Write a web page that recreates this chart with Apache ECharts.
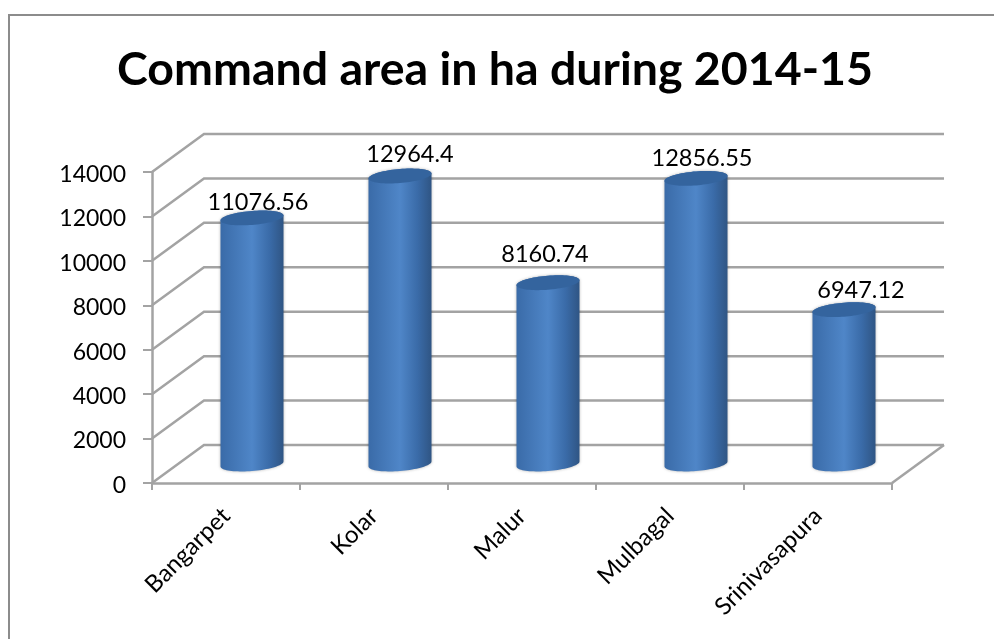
<!DOCTYPE html>
<html>
<head>
<meta charset="utf-8">
<style>
  html, body { margin: 0; padding: 0; background: #fff; }
  #chart { width: 994px; height: 639px; }
</style>
</head>
<body>
<div id="chart"></div>
<script src="https://cdn.jsdelivr.net/npm/echarts@6/dist/echarts.min.js"></script>
<script>
const categories = ['Bangarpet', 'Kolar', 'Malur', 'Mulbagal', 'Srinivasapura']
const areaValues = [11076.56, 12964.4, 8160.74, 12856.55, 6947.12]
const areaLabels = ['11076.56', '12964.4', '8160.74', '12856.55', '6947.12']
const wallTicks = [0, 2000, 4000, 6000, 8000, 10000, 12000, 14000]

const FONT_FAMILY = 'Lato, sans-serif'
const COLORS = {
  frame: '#8c8c8c',
  line: '#a3a3a3',
  text: '#000000',
  barEdge: '#3a6ba8',
  barMid: '#4f86c8',
  barDark: '#2f5584',
  barTop: '#34649e',
}

// fake 3d: how far the back wall sits from the front axis plane
const DEPTH_X = 52
const DEPTH_Y = -38
const BAR_RADIUS = 31.5
const BAR_ELLIPSE = 7
const BAR_TILT = 2.5
// hand placed data labels in the original, offset from the top of each bar
const LABEL_NUDGE = [[6, -16], [10, -22], [-3, -28], [6, -20], [17, -19]]

function renderWall(params, api) {
  const rect = params.coordSys
  const y = api.coord([0, api.value(0)])[1]
  const children = [{
    type: 'polyline',
    shape: { points: [[rect.x, y], [rect.x + DEPTH_X, y + DEPTH_Y], [rect.x + rect.width + DEPTH_X, y + DEPTH_Y]] },
    style: { fill: 'none', stroke: COLORS.line, lineWidth: 2.5 },
  }]
  if (api.value(0) === 0) {
    children.push({
      type: 'line',
      shape: { x1: rect.x + rect.width, y1: y, x2: rect.x + rect.width + DEPTH_X, y2: y + DEPTH_Y },
      style: { stroke: COLORS.line, lineWidth: 2.5 },
    })
  }
  return { type: 'group', children }
}

function ellipsePoint(cx, cy, t) {
  return [
    cx + BAR_RADIUS * Math.cos(t),
    cy + BAR_ELLIPSE * Math.sin(t) - BAR_TILT * Math.cos(t),
  ]
}

function renderBar(params, api) {
  const idx = api.value(0)
  const base = api.coord([idx, 0])
  const top = api.coord([idx, api.value(1)])
  const cx = base[0] + DEPTH_X / 2
  const baseY = base[1] + DEPTH_Y / 2
  const topY = top[1] + DEPTH_Y / 2

  const body = []
  const cap = []
  for (let i = 0; i <= 40; i++) {
    body.push(ellipsePoint(cx, baseY, Math.PI - (Math.PI * i) / 40))
  }
  for (let i = 0; i <= 40; i++) {
    body.push(ellipsePoint(cx, topY, -(Math.PI * i) / 40))
  }
  for (let i = 0; i < 80; i++) {
    cap.push(ellipsePoint(cx, topY, (2 * Math.PI * i) / 80))
  }

  return {
    type: 'group',
    children: [
      {
        type: 'polygon',
        shape: { points: body },
        style: {
          fill: {
            type: 'linear', x: 0, y: 0, x2: 1, y2: 0,
            colorStops: [
              { offset: 0, color: COLORS.barEdge },
              { offset: 0.5, color: COLORS.barMid },
              { offset: 0.78, color: COLORS.barEdge },
              { offset: 1, color: COLORS.barDark },
            ],
          },
          shadowBlur: 3,
          shadowColor: 'rgba(0,0,0,0.3)',
        },
      },
      {
        type: 'polygon',
        shape: { points: cap },
        style: { fill: COLORS.barTop },
      },
      {
        type: 'text',
        style: {
          text: areaLabels[idx],
          x: cx + LABEL_NUDGE[idx][0],
          y: topY + LABEL_NUDGE[idx][1],
          align: 'center',
          verticalAlign: 'middle',
          fill: COLORS.text,
          font: '23.5px ' + FONT_FAMILY,
        },
      },
    ],
  }
}

const chart = echarts.init(document.getElementById('chart'), null, { renderer: 'canvas' })
chart.setOption({
  animation: false,
  backgroundColor: '#ffffff',
  title: {
    text: 'Command area in ha during 2014-15',
    left: 490,
    top: 41,
    textAlign: 'center',
    textStyle: { fontFamily: FONT_FAMILY, fontSize: 46.5, fontWeight: 'bold', color: COLORS.text },
  },
  graphic: [
    {
      type: 'polyline',
      shape: { points: [[9, 639], [9, 15], [994, 15]] },
      style: { fill: 'none', stroke: COLORS.frame, lineWidth: 2 },
      silent: true,
    },
  ],
  grid: { left: 152, right: 102, top: 172, bottom: 156 },
  xAxis: {
    type: 'category',
    data: categories,
    axisLine: { lineStyle: { color: COLORS.line, width: 2.5 } },
    axisTick: { show: true, length: 7, lineStyle: { color: COLORS.line, width: 2 } },
    axisLabel: {
      interval: 0,
      rotate: 45,
      margin: 29,
      fontFamily: FONT_FAMILY,
      fontSize: 24,
      color: COLORS.text,
    },
  },
  yAxis: {
    type: 'value',
    min: 0,
    max: 14000,
    interval: 2000,
    axisLine: { show: true, lineStyle: { color: COLORS.line, width: 2.5 } },
    axisTick: { show: true, length: 9, lineStyle: { color: COLORS.line, width: 2 } },
    splitLine: { show: false },
    axisLabel: {
      margin: 26,
      verticalAlign: 'top',
      padding: [-9, 0, 0, 0],
      formatter: v => String(v),
      fontFamily: FONT_FAMILY,
      fontSize: 23,
      color: COLORS.text,
    },
  },
  series: [
    {
      type: 'custom',
      name: 'wall',
      coordinateSystem: 'cartesian2d',
      renderItem: renderWall,
      data: wallTicks.map(v => [v]),
      encode: { y: 0 },
      silent: true,
      z: 1,
    },
    {
      type: 'custom',
      name: 'Command area',
      coordinateSystem: 'cartesian2d',
      renderItem: renderBar,
      data: areaValues.map((v, i) => [i, v]),
      encode: { x: 0, y: 1 },
      z: 3,
    },
  ],
})
</script>
</body>
</html>
